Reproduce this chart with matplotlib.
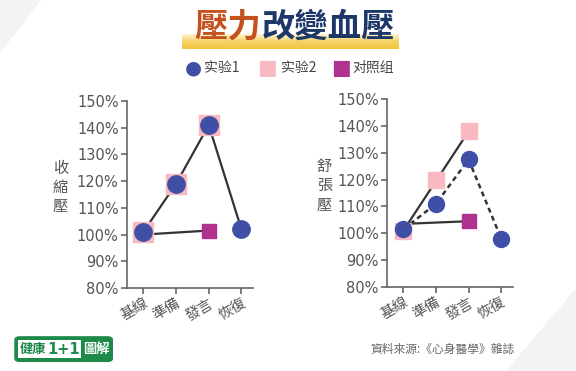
import numpy as np
import matplotlib
matplotlib.use('Agg')
from matplotlib import pyplot as plt
from matplotlib.patches import Polygon, FancyBboxPatch

plt.rcParams['font.family'] = ['Noto Sans CJK TC', 'DejaVu Sans']

stages = ['基線', '準備', '發言', '恢復']
yticks = [80, 90, 100, 110, 120, 130, 140, 150]

# 收縮壓
sys_exp1 = [101, 119, 141, 102]
sys_exp2 = [101, 119, 141]
sys_ctrl = [100, 101.5]

# 舒張壓
dia_exp1 = [101.5, 111, 127.5, 98]
dia_exp2 = [101, 120, 138]
dia_ctrl = [103.5, 104.5]

BLUE = '#3f4fa6'
PINK = '#f8b9c1'
MAGENTA = '#b1318f'
LINE = '#333333'
TXT = '#555555'

fig = plt.figure(figsize=(5.76, 3.71), dpi=100)

# light background corners
fig.patches.append(Polygon([[0, 1], [0.07, 1], [0, 0.86]], closed=True,
                           transform=fig.transFigure, color='#f3f3f3', zorder=0))
fig.patches.append(Polygon([[1, 0], [0.88, 0], [1, 0.22]], closed=True,
                           transform=fig.transFigure, color='#f3f3f3', zorder=0))


def setup(ax, label, lx):
    ax.set_xlim(-0.5, 3.35)
    ax.set_ylim(80, 150)
    ax.set_yticks(yticks)
    ax.set_yticklabels([f'{v}%' for v in yticks], color=TXT, fontsize=10.5,
                       family=['DejaVu Sans'])
    ax.set_xticks(range(len(stages)))
    ax.set_xticklabels(stages, rotation=30, ha='right', rotation_mode='anchor',
                       color=TXT, fontsize=10.5)
    for s in ['top', 'right']:
        ax.spines[s].set_visible(False)
    for s in ['left', 'bottom']:
        ax.spines[s].set_color('#666666')
        ax.spines[s].set_linewidth(1.2)
    ax.tick_params(axis='both', colors='#666666', length=4, width=1.2, pad=2)
    ax.tick_params(axis='x', labelcolor=TXT)
    ax.tick_params(axis='y', labelcolor=TXT)
    ax.text(lx, 0.54, '\n'.join(label), transform=ax.transAxes,
            ha='center', va='center', fontsize=11, color=TXT, linespacing=1.15)
    ax.set_facecolor('none')


ax1 = fig.add_axes([0.2205, 0.2237, 0.2185, 0.5041])
setup(ax1, '收縮壓', -0.53)
x = np.arange(4)
ax1.plot([0, 2], sys_ctrl, color=LINE, lw=1.6, zorder=2)
ax1.plot(x, sys_exp1, color=LINE, lw=1.6, zorder=2)
ax1.plot(x[:3], sys_exp2, 's', color=PINK, ms=14.5, zorder=3, clip_on=False)
ax1.plot([2], sys_ctrl[1:], 's', color=MAGENTA, ms=10.5, zorder=3)
ax1.plot(x, sys_exp1, 'o', color=BLUE, ms=12.5, zorder=4, clip_on=False)

ax2 = fig.add_axes([0.672, 0.2264, 0.218, 0.5066])
setup(ax2, '舒張壓', -0.50)
ax2.plot([0, 2], [dia_exp2[0], dia_exp2[2]], color=LINE, lw=1.6, zorder=2)
ax2.plot([0, 2], dia_ctrl, color=LINE, lw=1.6, zorder=2)
ax2.plot(x, dia_exp1, color=LINE, lw=1.8, ls=(0, (2, 1.5)), zorder=2)
ax2.plot(x[:3], dia_exp2, 's', color=PINK, ms=12, zorder=3)
ax2.plot([2], dia_ctrl[1:], 's', color=MAGENTA, ms=10, zorder=3)
ax2.plot(x, dia_exp1, 'o', color=BLUE, ms=11.5, zorder=4, clip_on=False)
ax2.plot([1], dia_exp1[1:2], 'o', color=BLUE, ms=8.5, zorder=5)

# title with yellow highlight
hl = np.linspace(0, 1, 50).reshape(-1, 1)
hax = fig.add_axes([0.316, 0.868, 0.375, 0.04], zorder=-1)
hax.imshow(np.repeat(hl, 2, axis=1), aspect='auto',
           cmap=matplotlib.colors.LinearSegmentedColormap.from_list(
               'y', ['#fdf3d0', '#f6d263', '#f2c542']))
hax.axis('off')
fig.text(0.454, 0.927, '壓力', ha='right', va='center', fontsize=24,
         fontweight='black', color='#c4521f')
fig.text(0.454, 0.927, '改變血壓', ha='left', va='center', fontsize=24,
         fontweight='black', color='#1d3768')

# legend
ly = 0.818
fig.text(0.336, ly, '●', ha='center', va='center', fontsize=14, color=BLUE,
         family=['DejaVu Sans'])
fig.text(0.355, ly, '实验1', ha='left', va='center', fontsize=10, color='#444444',
         family=['Noto Sans CJK SC'])
fig.text(0.464, ly, '■', ha='center', va='center', fontsize=15, color=PINK,
         family=['DejaVu Sans'])
fig.text(0.488, ly, '实验2', ha='left', va='center', fontsize=10, color='#444444',
         family=['Noto Sans CJK SC'])
fig.text(0.592, ly, '■', ha='center', va='center', fontsize=15, color=MAGENTA,
         family=['DejaVu Sans'])
fig.text(0.612, ly, '对照组', ha='left', va='center', fontsize=10, color='#444444',
         family=['Noto Sans CJK SC'])

# footer
logo = FancyBboxPatch((0.028, 0.028), 0.165, 0.062, boxstyle='round,pad=0.002,rounding_size=0.008',
                      transform=fig.transFigure, fc='#1e8a4a', ec='#1e8a4a', lw=1)
fig.patches.append(logo)
inner = FancyBboxPatch((0.032, 0.034), 0.108, 0.05, boxstyle='square,pad=0',
                       transform=fig.transFigure, fc='white', ec='none')
fig.patches.append(inner)
fig.text(0.034, 0.059, '健康', ha='left', va='center', fontsize=9.5, color='#1e8a4a',
         fontweight='bold')
fig.text(0.083, 0.059, '1+1', ha='left', va='center', fontsize=10.5, color='#1e8a4a',
         fontweight='bold', family=['DejaVu Sans'])
fig.text(0.145, 0.059, '圖解', ha='left', va='center', fontsize=9.5, color='white',
         fontweight='bold')
fig.text(0.893, 0.059, '資料來源:《心身醫學》雜誌', ha='right', va='center',
         fontsize=8.5, color='#666666')

fig.savefig('out.png', dpi=100)
